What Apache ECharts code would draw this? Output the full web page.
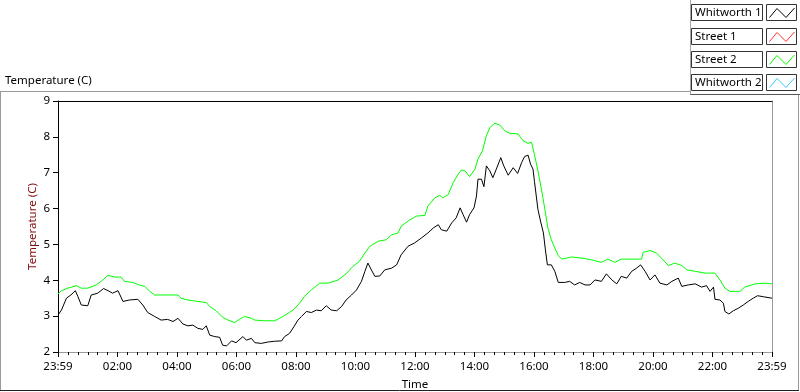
<!DOCTYPE html>
<html>
<head>
<meta charset="utf-8">
<script src="https://cdn.jsdelivr.net/npm/echarts@6/dist/echarts.min.js"></script>
<style>
html,body{margin:0;padding:0;background:#fff;}
#chart{width:800px;height:392px;}
</style>
</head>
<body>
<div id="chart"></div>
<script>
// ---- data: [minutes since start (23:59), temperature °C] ----
const seriesNames = ['Whitworth 1', 'Street 1', 'Street 2', 'Whitworth 2'];
const seriesColors = ['#000000', '#ff3030', '#00ff00', '#3cc8ff'];

const whitworth1 = [
  [0,3.03],[7,3.17],[17,3.50],[26,3.59],[35,3.71],[40,3.55],[47,3.31],[60,3.29],[67,3.59],[80,3.64],
  [92,3.77],[101,3.71],[110,3.64],[121,3.71],[131,3.41],[144,3.45],[161,3.47],[171,3.31],[181,3.10],[195,2.99],
  [208,2.89],[221,2.91],[232,2.85],[242,2.94],[252,2.78],[262,2.73],[272,2.75],[282,2.66],[292,2.63],[299,2.73],
  [306,2.47],[316,2.43],[326,2.41],[332,2.19],[340,2.17],[350,2.31],[359,2.26],[373,2.43],[380,2.33],[390,2.38],
  [397,2.26],[410,2.24],[424,2.28],[437,2.30],[451,2.31],[457,2.43],[467,2.52],[476,2.71],[484,2.89],[491,2.99],
  [501,3.13],[511,3.10],[521,3.17],[531,3.15],[541,3.29],[551,3.17],[562,3.15],[572,3.27],[581,3.45],[592,3.59],
  [602,3.73],[612,3.97],[619,4.25],[625,4.48],[632,4.29],[639,4.11],[649,4.12],[659,4.29],[673,4.34],[683,4.43],
  [692,4.71],[706,4.95],[719,5.04],[733,5.18],[746,5.32],[757,5.46],[767,5.55],[773,5.41],[784,5.37],[794,5.60],
  [803,5.74],[811,6.02],[817,5.83],[824,5.62],[830,5.83],[839,6.02],[844,6.35],[847,6.82],[854,6.82],[859,6.61],
  [864,7.19],[871,7.05],[877,6.86],[884,7.10],[893,7.42],[899,7.19],[908,6.93],[918,7.14],[927,6.98],[935,7.28],
  [941,7.45],[948,7.49],[953,7.24],[958,7.10],[961,6.75],[968,5.97],[974,5.60],[979,5.32],[983,4.85],[987,4.43],
  [995,4.43],[1002,4.25],[1009,3.94],[1022,3.94],[1032,3.97],[1042,3.87],[1052,3.94],[1063,3.87],[1073,3.87],[1083,4.01],
  [1096,3.97],[1106,4.18],[1117,4.01],[1127,3.90],[1136,4.11],[1147,4.06],[1157,4.25],[1167,4.34],[1175,4.43],[1184,4.25],
  [1194,4.01],[1204,4.15],[1214,3.92],[1228,3.87],[1238,3.97],[1251,4.06],[1258,3.83],[1271,3.87],[1285,3.90],[1298,3.81],
  [1308,3.85],[1315,3.69],[1322,3.81],[1325,3.47],[1335,3.45],[1342,3.36],[1345,3.13],[1353,3.06],[1362,3.15],[1372,3.22],
  [1382,3.31],[1392,3.41],[1402,3.50],[1411,3.57],[1423,3.54],[1440,3.50]
];

const street1 = [];

const street2 = [
  [0,3.62],[7,3.71],[20,3.78],[37,3.85],[47,3.78],[60,3.78],[77,3.87],[87,3.97],[101,4.14],[114,4.09],
  [127,4.09],[134,3.97],[151,3.94],[164,3.87],[175,3.83],[185,3.69],[195,3.59],[242,3.59],[248,3.50],[262,3.45],
  [282,3.41],[299,3.38],[306,3.27],[319,3.15],[332,2.97],[343,2.89],[356,2.82],[366,2.91],[376,2.99],[390,2.94],
  [397,2.89],[416,2.87],[420,2.82],[437,2.87],[451,2.97],[464,3.08],[476,3.19],[487,3.36],[497,3.55],[511,3.73],
  [528,3.92],[545,3.92],[565,4.01],[581,4.18],[595,4.39],[608,4.53],[619,4.76],[629,4.95],[646,5.09],[662,5.13],
  [673,5.27],[686,5.32],[692,5.51],[709,5.68],[723,5.79],[740,5.81],[746,6.07],[760,6.30],[770,6.37],[776,6.30],
  [787,6.39],[797,6.72],[807,6.96],[814,7.08],[821,7.05],[830,6.89],[841,7.10],[847,7.38],[856,7.61],[864,8.03],
  [871,8.26],[881,8.38],[891,8.33],[901,8.17],[911,8.10],[928,8.08],[938,7.89],[948,7.82],[955,7.85],[961,7.50],
  [968,7.05],[975,6.54],[982,5.97],[988,5.46],[995,5.13],[1002,4.90],[1009,4.69],[1016,4.59],[1036,4.65],[1056,4.62],
  [1076,4.57],[1096,4.50],[1109,4.59],[1123,4.50],[1136,4.59],[1177,4.59],[1180,4.78],[1194,4.83],[1207,4.76],[1217,4.62],
  [1231,4.41],[1244,4.48],[1258,4.41],[1268,4.29],[1285,4.25],[1305,4.20],[1325,4.20],[1335,4.01],[1345,3.78],[1355,3.69],
  [1375,3.69],[1385,3.81],[1406,3.90],[1426,3.92],[1440,3.90]
];

const whitworth2 = [];

const xTickLabels = ['23:59','02:00','04:00','06:00','08:00','10:00','12:00','14:00','16:00','18:00','20:00','22:00','23:59'];
const yTicks = [2, 3, 4, 5, 6, 7, 8, 9];

// ---- chart ----
const FONT = '"Noto Sans", "DejaVu Sans", sans-serif';
const chart = echarts.init(document.getElementById('chart'), null, {renderer: 'canvas'});

const seriesData = [whitworth1, street1, street2, whitworth2];

// legend graphic (LabVIEW-style plot legend)
const legendGraphics = [];
const rowTops = [4.5, 28.5, 51.5, 74.5];
seriesNames.forEach((name, i) => {
  const top = rowTops[i];
  legendGraphics.push({
    type: 'rect', shape: {x: 691.5, y: top, width: 71, height: 16},
    style: {fill: '#fff', stroke: '#333', lineWidth: 1}, silent: true
  });
  legendGraphics.push({
    type: 'text', x: 695, y: top + 8.5,
    style: {text: name, fill: '#000', font: '11.5px ' + FONT, verticalAlign: 'middle', textAlign: 'left'},
    silent: true
  });
  legendGraphics.push({
    type: 'rect', shape: {x: 766.5, y: top, width: 30, height: 16},
    style: {fill: '#fff', stroke: '#333', lineWidth: 1}, silent: true
  });
  legendGraphics.push({
    type: 'polyline',
    shape: {points: [[769.5, top + 13], [777, top + 4], [786, top + 13], [794.5, top + 3.5]]},
    style: {stroke: seriesColors[i], lineWidth: 1, fill: null}, silent: true
  });
});

const frameGraphics = [
  // outer graph panel
  {type: 'line', shape: {x1: 0, y1: 91.5, x2: 690, y2: 91.5}, style: {stroke: '#9a9a9a', lineWidth: 1}},
  {type: 'line', shape: {x1: 0.5, y1: 91.5, x2: 0.5, y2: 391}, style: {stroke: '#9a9a9a', lineWidth: 1}},
  {type: 'line', shape: {x1: 798.5, y1: 95, x2: 798.5, y2: 391}, style: {stroke: '#9a9a9a', lineWidth: 1}},
  {type: 'line', shape: {x1: 0, y1: 390.5, x2: 799, y2: 390.5}, style: {stroke: '#222', lineWidth: 1}},
  // legend panel
  {type: 'line', shape: {x1: 690.5, y1: 0, x2: 690.5, y2: 95}, style: {stroke: '#a8a8a8', lineWidth: 1}},
  {type: 'line', shape: {x1: 690.5, y1: 94.5, x2: 800, y2: 94.5}, style: {stroke: '#555', lineWidth: 1}},
  // graph title
  {type: 'text', x: 5, y: 81, style: {text: 'Temperature (C)', fill: '#000', font: '11.5px ' + FONT, verticalAlign: 'middle'}}
];

const option = {
  animation: false,
  backgroundColor: '#fff',
  grid: {left: 58, right: 28, top: 101, bottom: 40, containLabel: false, outerBoundsMode: 'none'},
  xAxis: [{
    type: 'value', min: 0, max: 1440, interval: 120,
    position: 'bottom',
    name: 'Time', nameLocation: 'middle', nameGap: 27, nameMoveOverlap: false,
    nameTextStyle: {color: '#000', fontSize: 11.5, fontFamily: FONT},
    axisLine: {show: true, onZero: false, lineStyle: {color: '#9a9a9a', width: 1}},
    axisTick: {show: true, length: 5, lineStyle: {color: '#000'}},
    minorTick: {show: true, splitNumber: 6, length: 3, lineStyle: {color: '#000'}},
    splitLine: {show: false},
    axisLabel: {
      color: '#000', fontSize: 11.5, fontFamily: FONT, margin: 9,
      showMinLabel: true, showMaxLabel: true,
      formatter: v => xTickLabels[Math.round(v / 120)] || ''
    }
  }, {
    type: 'value', min: 0, max: 1440, position: 'top',
    axisLine: {show: true, onZero: false, lineStyle: {color: '#000', width: 1}},
    axisTick: {show: false}, axisLabel: {show: false}, splitLine: {show: false}
  }],
  yAxis: [{
    type: 'value', min: yTicks[0], max: yTicks[yTicks.length - 1], interval: 1,
    position: 'left',
    name: 'Temperature (C)', nameLocation: 'middle', nameGap: 19, nameRotate: 90, nameMoveOverlap: false,
    nameTextStyle: {color: '#7f0a0a', fontSize: 11.5, fontFamily: FONT},
    axisLine: {show: true, onZero: false, lineStyle: {color: '#000', width: 1}},
    axisTick: {show: true, length: 5, lineStyle: {color: '#000'}},
    splitLine: {show: false},
    axisLabel: {color: '#000', fontSize: 11.5, fontFamily: FONT, margin: 8}
  }, {
    type: 'value', min: 2, max: 9, position: 'right',
    axisLine: {show: true, onZero: false, lineStyle: {color: '#9a9a9a', width: 1}},
    axisTick: {show: false}, axisLabel: {show: false}, splitLine: {show: false}
  }],
  series: seriesNames.map((name, i) => ({
    name: name, type: 'line', data: seriesData[i],
    xAxisIndex: 0, yAxisIndex: 0,
    showSymbol: false, symbol: 'none',
    lineStyle: {color: seriesColors[i], width: 1},
    itemStyle: {color: seriesColors[i]},
    z: i === 0 ? 3 : 2
  })),
  graphic: frameGraphics.concat(legendGraphics)
};

chart.setOption(option);
</script>
</body>
</html>
